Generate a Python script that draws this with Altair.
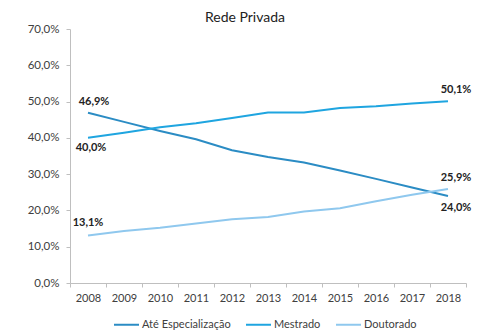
import altair as alt
import pandas as pd

years = [str(y) for y in range(2008, 2019)]
ate_esp = [46.9, 44.4, 41.9, 39.6, 36.6, 34.7, 33.2, 31.0, 28.7, 26.3, 24.0]
mestrado = [40.0, 41.4, 42.9, 44.0, 45.5, 47.0, 47.0, 48.2, 48.7, 49.5, 50.1]
doutorado = [13.1, 14.3, 15.2, 16.4, 17.6, 18.2, 19.7, 20.6, 22.5, 24.3, 25.9]
series_names = ["Até Especialização", "Mestrado", "Doutorado"]
series_colors = ["#2b8cc4", "#1fa5e0", "#8fc8ee"]

rows = []
for name, vals in zip(series_names, [ate_esp, mestrado, doutorado]):
    for y, v in zip(years, vals):
        rows.append({"ano": y, "serie": name, "valor": v / 100})
df = pd.DataFrame(rows)

def sel(pairs):
    m = pd.Series(False, index=df.index)
    for s, y in pairs:
        m |= (df["serie"] == s) & (df["ano"] == y)
    d = df[m].copy()
    d["txt"] = d["valor"].map(lambda v: f"{v*100:.1f}%".replace(".", ","))
    return d

FONT = "Lato"
xenc = alt.X("ano:O", bandPosition=0.5,
             scale=alt.Scale(type="band", paddingInner=0, paddingOuter=0),
             axis=alt.Axis(title=None, labelAngle=0, tickBand="extent", labelFontSize=11,
                           labelColor="#404040", labelFont=FONT, domainColor="#bfbfbf",
                           tickColor="#bfbfbf", tickSize=4, labelPadding=5, grid=False))
yenc = alt.Y("valor:Q", scale=alt.Scale(domain=[0, 0.7]),
             axis=alt.Axis(title=None, values=[0, 0.1, 0.2, 0.3, 0.4, 0.5, 0.6, 0.7],
                           labelExpr="replace(format(datum.value, '.1%'), '.', ',')",
                           labelFontSize=11.5, labelColor="#404040", labelFont=FONT,
                           domainColor="#bfbfbf", tickColor="#bfbfbf", tickSize=4,
                           labelPadding=7, grid=False))

lines = alt.Chart(df).mark_line(strokeWidth=2).encode(
    x=xenc, y=yenc,
    color=alt.Color("serie:N", scale=alt.Scale(domain=series_names, range=series_colors),
                    legend=alt.Legend(title=None, orient="none", legendX=43, legendY=282,
                                      direction="horizontal", symbolType="stroke",
                                      symbolSize=625, symbolStrokeWidth=2,
                                      labelFontSize=11, labelFont=FONT, labelColor="#404040",
                                      columnPadding=11, labelOffset=2)),
)

def labels(pairs, dx, dy):
    return alt.Chart(sel(pairs)).mark_text(dx=dx, dy=dy, fontSize=11, fontWeight="bold",
                                           font=FONT, color="#222222").encode(
        x=xenc, y=yenc, text="txt:N")

first, last = years[0], years[-1]
layers = [
    labels([("Até Especialização", first)], 6, -11),
    labels([("Doutorado", first)], 0, -12),
    labels([("Mestrado", first)], 3, 10),
    labels([("Mestrado", last), ("Doutorado", last)], 8, -11),
    labels([("Até Especialização", last)], 8, 12),
]

chart = alt.layer(lines, *layers).properties(
    width=396, height=254,
    title=alt.TitleParams("Rede Privada", fontSize=14, font=FONT, fontWeight="normal",
                          color="#222222", anchor="middle", dx=-23, offset=-2),
    autosize=alt.AutoSizeParams(type="none"),
    padding={"left": 70, "top": 29, "right": 33, "bottom": 52},
).configure_view(stroke=None)

chart.save("out.html", embed_options={"renderer": "svg", "actions": False})
